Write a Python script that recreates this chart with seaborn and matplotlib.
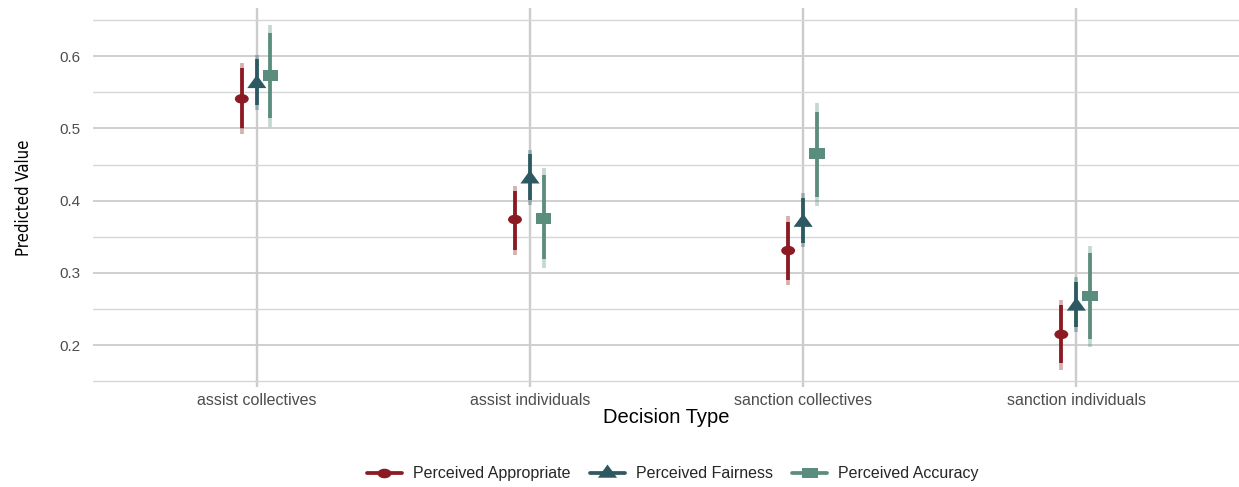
"""Predicted values by decision type, with two-level interval ranges."""

import matplotlib
import numpy as np
import pandas as pd
import seaborn as sns

matplotlib.use("Agg")
import matplotlib.pyplot as plt
from matplotlib.lines import Line2D
from matplotlib.markers import MarkerStyle
from matplotlib.path import Path
from matplotlib.transforms import Affine2D

DECISIONS = [
    "assist collectives",
    "assist individuals",
    "sanction collectives",
    "sanction individuals",
]
MEASURES = ["Perceived Appropriate", "Perceived Fairness", "Perceived Accuracy"]

# point estimates, one list per measure, in DECISIONS order
APPROPRIATE = [0.541, 0.374, 0.331, 0.215]
FAIRNESS = [0.565, 0.433, 0.373, 0.257]
ACCURACY = [0.573, 0.375, 0.465, 0.268]

# inner (dark) intervals
APPROPRIATE_INNER = [(0.501, 0.583), (0.332, 0.413), (0.290, 0.371), (0.175, 0.256)]
FAIRNESS_INNER = [(0.532, 0.596), (0.401, 0.464), (0.341, 0.404), (0.225, 0.288)]
ACCURACY_INNER = [(0.515, 0.632), (0.320, 0.435), (0.405, 0.523), (0.209, 0.327)]

# outer (light) intervals
APPROPRIATE_OUTER = [(0.493, 0.590), (0.325, 0.421), (0.283, 0.379), (0.166, 0.263)]
FAIRNESS_OUTER = [(0.526, 0.602), (0.394, 0.470), (0.336, 0.411), (0.218, 0.294)]
ACCURACY_OUTER = [(0.502, 0.643), (0.307, 0.445), (0.393, 0.535), (0.198, 0.338)]

COLORS = {
    "Perceived Appropriate": "#8B1A22",
    "Perceived Fairness": "#2D5A62",
    "Perceived Accuracy": "#5B8D7F",
}
DODGE = {
    "Perceived Appropriate": -0.055,
    "Perceived Fairness": 0.0,
    "Perceived Accuracy": 0.05,
}


def stretched(symbol: str, lift: float = 0.0) -> Path:
    """Marker path widened sideways, as in the (stretched) original."""
    style = MarkerStyle(symbol)
    path = style.get_path().transformed(style.get_transform())
    return path.transformed(Affine2D().scale(1.45, 1.0).translate(0, lift))


MARKERS = {
    "Perceived Appropriate": stretched("o"),
    "Perceived Fairness": stretched("^"),
    "Perceived Accuracy": stretched("s"),
}
LEGEND_MARKERS = {
    "Perceived Appropriate": stretched("o"),
    "Perceived Fairness": stretched("^", lift=0.18),
    "Perceived Accuracy": stretched("s"),
}
SIZES = {"Perceived Appropriate": 100, "Perceived Fairness": 190, "Perceived Accuracy": 125}


def build_frame() -> pd.DataFrame:
    """Collect estimates and intervals in long format."""
    estimates = [APPROPRIATE, FAIRNESS, ACCURACY]
    inner = [APPROPRIATE_INNER, FAIRNESS_INNER, ACCURACY_INNER]
    outer = [APPROPRIATE_OUTER, FAIRNESS_OUTER, ACCURACY_OUTER]
    rows = []
    for measure, est, inn, out in zip(MEASURES, estimates, inner, outer):
        for idx, decision in enumerate(DECISIONS):
            rows.append(
                {
                    "decision": decision,
                    "measure": measure,
                    "pos": idx + DODGE[measure],
                    "value": est[idx],
                    "inner_lo": inn[idx][0],
                    "inner_hi": inn[idx][1],
                    "outer_lo": out[idx][0],
                    "outer_hi": out[idx][1],
                }
            )
    return pd.DataFrame(rows)


def main() -> None:
    sns.set_theme(style="whitegrid")
    plt.rcParams["font.family"] = ["Liberation Sans", "DejaVu Sans"]

    frame = build_frame()

    fig = plt.figure(figsize=(12.39, 4.87), dpi=100)
    ax = fig.add_axes([0.075, 0.205, 0.926, 0.779])

    for measure in MEASURES:
        sub = frame[frame["measure"] == measure]
        ax.vlines(sub["pos"], sub["outer_lo"], sub["outer_hi"],
                  color=COLORS[measure], alpha=0.35, lw=2.7, zorder=3)
        ax.vlines(sub["pos"], sub["inner_lo"], sub["inner_hi"],
                  color=COLORS[measure], lw=2.7, zorder=4)

    sns.scatterplot(
        data=frame, x="pos", y="value", hue="measure", style="measure",
        hue_order=MEASURES, style_order=MEASURES, palette=COLORS,
        markers=MARKERS, size="measure", sizes=SIZES, linewidth=0,
        legend=False, ax=ax, zorder=5,
    )

    ax.set_xlim(-0.6, len(DECISIONS) - 0.4)
    ax.set_ylim(0.142, 0.667)
    ax.set_xticks(np.arange(len(DECISIONS)))
    ax.set_xticklabels(DECISIONS)
    ax.set_yticks([0.2, 0.3, 0.4, 0.5, 0.6])
    ax.set_yticks(np.arange(0.15, 0.66, 0.1), minor=True)
    ax.set_yticklabels(["0.2", "0.3", "0.4", "0.5", "0.6"])

    ax.grid(True, which="major", axis="x", color="#CCCCCC", lw=1.7)
    ax.grid(True, which="major", axis="y", color="#CCCCCC", lw=1.3)
    ax.grid(True, which="minor", axis="y", color="#D6D6D6", lw=1.0)
    ax.set_axisbelow(True)
    for spine in ax.spines.values():
        spine.set_visible(False)
    ax.tick_params(axis="both", which="both", length=0, labelsize=11,
                   labelcolor="#4D4D4D")
    ax.tick_params(axis="x", labelsize=11.5, pad=4)
    ax.tick_params(axis="y", pad=9)

    ax.set_xlabel("Decision Type", fontsize=14.5, color="black", labelpad=0)
    ax.set_ylabel("Predicted Value", fontsize=12, color="black", labelpad=19,
                  family=["Liberation Sans Narrow", "DejaVu Sans"],
                  fontstretch="condensed")

    handles = [
        Line2D([0], [0], color=COLORS[m], lw=2.7, marker=LEGEND_MARKERS[m],
               markersize=np.sqrt(SIZES[m]), markeredgewidth=0)
        for m in MEASURES
    ]
    fig.legend(handles, MEASURES, loc="center", bbox_to_anchor=(0.543, 0.027),
               ncol=3, frameon=False, fontsize=11.5, handlelength=2.2,
               columnspacing=1.2, handletextpad=0.7)

    fig.savefig("out.png", dpi=100)
    plt.close(fig)


if __name__ == "__main__":
    main()
